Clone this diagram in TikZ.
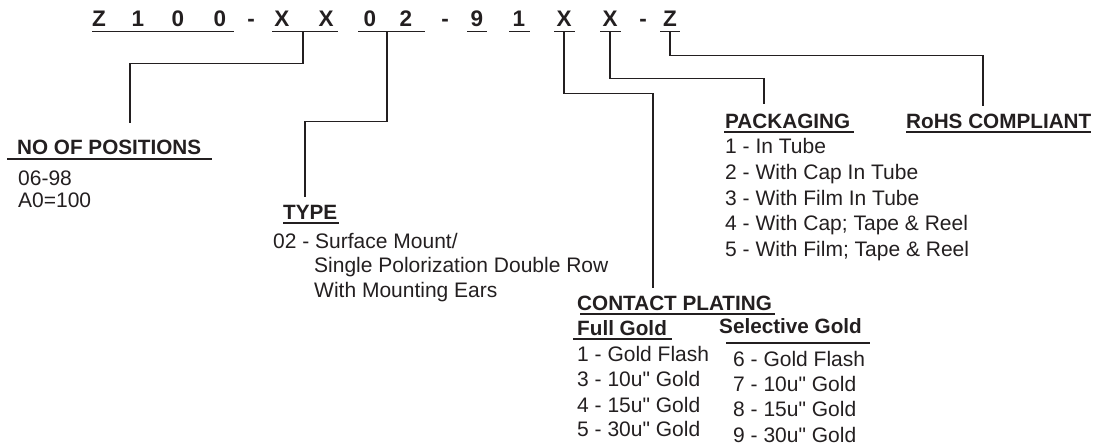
\documentclass[tikz,border=0pt]{standalone}
\usepackage{fontspec}
\setmainfont{Liberation Sans}
\usepackage{xcolor}
\usepackage{tikz}
\definecolor{ink}{RGB}{35,31,32}

\begin{document}
\begin{tikzpicture}[x=1pt, y=-1pt,
    every node/.style={inner sep=0pt, anchor=base west, text=ink},
    code/.style={font=\fontsize{22.5}{26}\selectfont\bfseries, anchor=base},
    head/.style={font=\fontsize{20.7}{24}\selectfont\bfseries},
    item/.style={font=\fontsize{21}{25}\selectfont},
    wire/.style={draw=ink, line width=1.8pt}]
  \useasboundingbox (0,0) rectangle (1111,445);
  % part number
  \node[code] (c1) at (99,26) {Z};
  \node[code] (c2) at (138,26) {1};
  \node[code] (c3) at (178,26) {0};
  \node[code] (c4) at (220,26) {0};
  \node[code] (d1) at (251,26) {-};
  \node[code] (c5) at (282,26) {X};
  \node[code] (c6) at (326,26) {X};
  \node[code] (c7) at (370,26) {0};
  \node[code] (c8) at (406,26) {2};
  \node[code] (d2) at (445,26) {-};
  \node[code] (c9) at (477,26) {9};
  \node[code] (c10) at (519,26) {1};
  \node[code] (c11) at (564,26) {X};
  \node[code] (c12) at (610,26) {X};
  \node[code] (d3) at (643,26) {-};
  \node[code] (c13) at (670,26) {Z};
  \draw[wire] (92,31.5) -- (234,31.5);
  \draw[wire] (272,31.5) -- (338,31.5);
  \draw[wire] (358,31.5) -- (425,31.5);
  \draw[wire] (467,31.5) -- (487,31.5);
  \draw[wire] (509,31.5) -- (530,31.5);
  \draw[wire] (554,31.5) -- (575,31.5);
  \draw[wire] (600,31.5) -- (621,31.5);
  \draw[wire] (660,31.5) -- (680,31.5);
  \coordinate (postick) at (303,31.5);
  \coordinate (typetick) at (387,31.5);
  \coordinate (platetick) at (564,31.5);
  \coordinate (packtick) at (610,31.5);
  \coordinate (rohstick) at (670,31.5);

  % headings
  \node[head] (pos) at (17,154) {NO OF POSITIONS};
  \draw[wire] (7,159) -- (212,159);
  \node[head] (type) at (283,219) {TYPE};
  \draw[wire] (283,223) -- (339,223);
  \node[head] (pack) at (725,128) {PACKAGING};
  \draw[wire] (724,132) -- (854,132);
  \node[head] (rohs) at (906,128) {RoHS COMPLIANT};
  \draw[wire] (906,132) -- (1091,132);
  \node[head] (plate) at (577,310) {CONTACT PLATING};
  \draw[wire] (580,314) -- (775,314);
  \node[head] (full) at (577,335) {Full Gold};
  \draw[wire] (573,339) -- (672,339);
  \node[head] (sel) at (719,333) {Selective Gold};
  \draw[wire] (726,343) -- (870,343);

  % entries
  \node[item] (pos1) at (18,185) {06-98};
  \node[item] (pos2) at (18,207) {A0=100};
  \node[item] (type1) at (273,248) {02 - Surface Mount/};
  \node[item] (type2) at (314,272) {Single Polorization Double Row};
  \node[item] (type3) at (314,297) {With Mounting Ears};
  \node[item] (pack1) at (725,153) {1 - In Tube};
  \node[item] (pack2) at (725,179) {2 - With Cap In Tube};
  \node[item] (pack3) at (725,205) {3 - With Film In Tube};
  \node[item] (pack4) at (725,230) {4 - With Cap; Tape \& Reel};
  \node[item] (pack5) at (725,256) {5 - With Film; Tape \& Reel};
  \node[item] (full1) at (577,361) {1 - Gold Flash};
  \node[item] (full2) at (577,386) {3 - 10u\textquotedbl{} Gold};
  \node[item] (full3) at (577,412) {4 - 15u\textquotedbl{} Gold};
  \node[item] (full4) at (577,436) {5 - 30u\textquotedbl{} Gold};
  \node[item] (sel1) at (733,366) {6 - Gold Flash};
  \node[item] (sel2) at (733,391) {7 - 10u\textquotedbl{} Gold};
  \node[item] (sel3) at (733,416) {8 - 15u\textquotedbl{} Gold};
  \node[item] (sel4) at (733,442) {9 - 30u\textquotedbl{} Gold};

  % leaders
  \coordinate (posin) at (130,123);
  \coordinate (typein) at (305,197);
  \coordinate (platein) at (653,288);
  \coordinate (packin) at (764,104);
  \coordinate (rohsin) at (983,106);
  \draw[wire] (postick) -- ++(0,32) -| (posin);
  \draw[wire] (typetick) -- ++(0,90) -| (typein);
  \draw[wire] (platetick) -- ++(0,62) -| (platein);
  \draw[wire] (packtick) -- ++(0,47) -| (packin);
  \draw[wire] (rohstick) -- ++(0,24) -| (rohsin);
\end{tikzpicture}
\end{document}
